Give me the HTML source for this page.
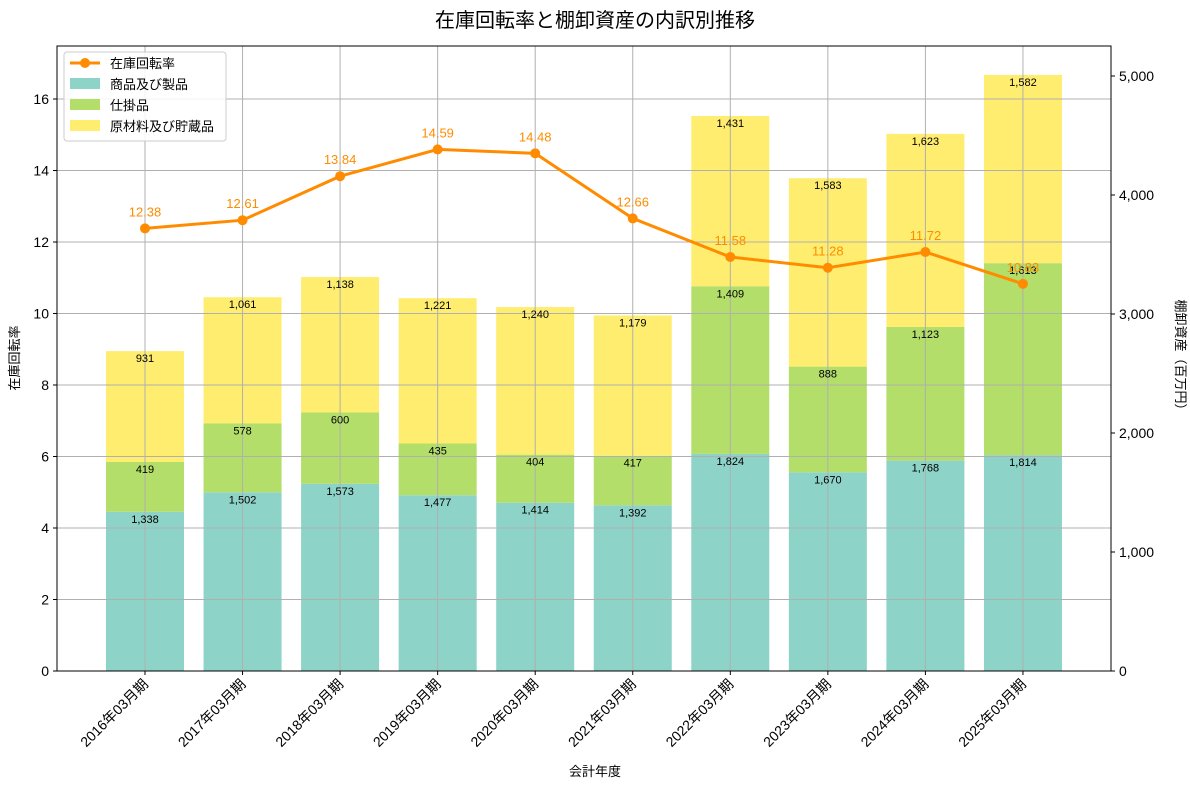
<!DOCTYPE html>
<html><head><meta charset="utf-8"><style>
body{margin:0;background:#fff;font-family:"Liberation Sans","Noto Sans CJK JP",sans-serif}
svg text{font-family:"Liberation Sans","Noto Sans CJK JP",sans-serif}
</style></head><body>
<svg id="c" width="1190" height="789" xmlns="http://www.w3.org/2000/svg"></svg>
<script>
const categories=["2016年03月期","2017年03月期","2018年03月期","2019年03月期","2020年03月期","2021年03月期","2022年03月期","2023年03月期","2024年03月期","2025年03月期"];
const goods=[1338,1502,1573,1477,1414,1392,1824,1670,1768,1814];
const wip=[419,578,600,435,404,417,1409,888,1123,1613];
const raw=[931,1061,1138,1221,1240,1179,1431,1583,1623,1582];
const rate=[12.38,12.61,13.84,14.59,14.48,12.66,11.58,11.28,11.72,10.83];
const leftTicks=[0,2,4,6,8,10,12,14,16];
const rightTicks=[0,1000,2000,3000,4000,5000];
const L=57,R=1111,T=46,B=671;
const yL=v=>B-v*35.75;
const yR=v=>B-v*0.119;
const xC=i=>145+i*97.55;
const bw=78;
const svg=document.getElementById('c');
const NS='http://www.w3.org/2000/svg';
function el(tag,attrs,parent,txt){const e=document.createElementNS(NS,tag);for(const k in attrs)e.setAttribute(k,attrs[k]);if(txt!==undefined)e.textContent=txt;(parent||svg).appendChild(e);return e;}
const fmt=v=>v.toLocaleString('en-US');
// title
let t=el('text',{x:595,y:27,'text-anchor':'middle','font-size':20,fill:'#000'},svg,'在庫回転率と棚卸資産の内訳別推移');

// bars
const cols=['#8dd3c7','#b3de69','#ffed6f'];
const series=[goods,wip,raw];
const names=['goods','wip','raw'];
categories.forEach((c,i)=>{
 let base=0;
 series.forEach((s,k)=>{
  const y0=yR(base),y1=yR(base+s[i]);
  const r=el('rect',{x:xC(i)-bw/2,y:y1,width:bw,height:y0-y1,fill:cols[k]});
  
  
  base+=s[i];
 });
});
// grid
const g=el('g',{stroke:'#b0b0b0','stroke-width':1});

leftTicks.forEach(v=>el('line',{x1:L,x2:R,y1:yL(v),y2:yL(v)},g));
categories.forEach((c,i)=>el('line',{x1:xC(i),x2:xC(i),y1:T,y2:B},g));
// segment labels
categories.forEach((c,i)=>{
 let base=0;
 series.forEach((s,k)=>{
  base+=s[i];
  const tx=el('text',{x:xC(i),y:yR(base)+11,'text-anchor':'middle','font-size':11,fill:'#000'},svg,fmt(s[i]));
  
 });
});
// line
const pts=rate.map((v,i)=>xC(i)+','+yL(v)).join(' ');
const pl=el('polyline',{points:pts,fill:'none',stroke:'#ff8c00','stroke-width':3});

rate.forEach((v,i)=>{
 const p=el('circle',{cx:xC(i),cy:yL(v),r:5,fill:'#ff8c00'});
 
 const tx=el('text',{x:xC(i),y:yL(v)-12,'text-anchor':'middle','font-size':13,fill:'#ff8c00'},svg,v.toFixed(2));
 
});
// frame
const fr=el('rect',{x:L,y:T,width:R-L,height:B-T,fill:'none',stroke:'#000','stroke-width':1});

// left ticks
leftTicks.forEach(v=>{
 el('line',{x1:L-4,x2:L,y1:yL(v),y2:yL(v),stroke:'#000'});
 const tx=el('text',{x:L-8,y:yL(v)+5,'text-anchor':'end','font-size':14},svg,String(v));
 
});
rightTicks.forEach(v=>{
 el('line',{x1:R,x2:R+4,y1:yR(v),y2:yR(v),stroke:'#000'});
 const tx=el('text',{x:R+8,y:yR(v)+5,'text-anchor':'start','font-size':14},svg,fmt(v));
 
});
categories.forEach((c,i)=>{
 el('line',{x1:xC(i),x2:xC(i),y1:B,y2:B+4,stroke:'#000'});
 const tx=el('text',{x:xC(i)+4,y:B+14,'text-anchor':'end','font-size':14,transform:`rotate(-45 ${xC(i)+4} ${B+14})`},svg,c);
 
});
let a=el('text',{x:595,y:776,'text-anchor':'middle','font-size':13},svg,'会計年度');

a=el('text',{x:19,y:358,'text-anchor':'middle','font-size':13,transform:'rotate(-90 19 358)'},svg,'在庫回転率');

a=el('text',{x:1176,y:358,'text-anchor':'middle','font-size':13,transform:'rotate(90 1176 358)'},svg,'棚卸資産（百万円）');

// legend
const lg=el('g',{});

el('rect',{x:64,y:52,width:162,height:89,fill:'#fff','fill-opacity':0.85,stroke:'#ccc',rx:3},lg);
el('line',{x1:70,x2:100,y1:63,y2:63,stroke:'#ff8c00','stroke-width':3},lg);
el('circle',{cx:85,cy:63,r:5,fill:'#ff8c00'},lg);
el('text',{x:110,y:68,'font-size':13},lg,'在庫回転率');
const ln=['商品及び製品','仕掛品','原材料及び貯蔵品'];
ln.forEach((n,k)=>{
 el('rect',{x:70,y:78+k*21,width:30,height:11,fill:cols[k]},lg);
 el('text',{x:110,y:89+k*21,'font-size':13},lg,n);
});
</script>
</body></html>
